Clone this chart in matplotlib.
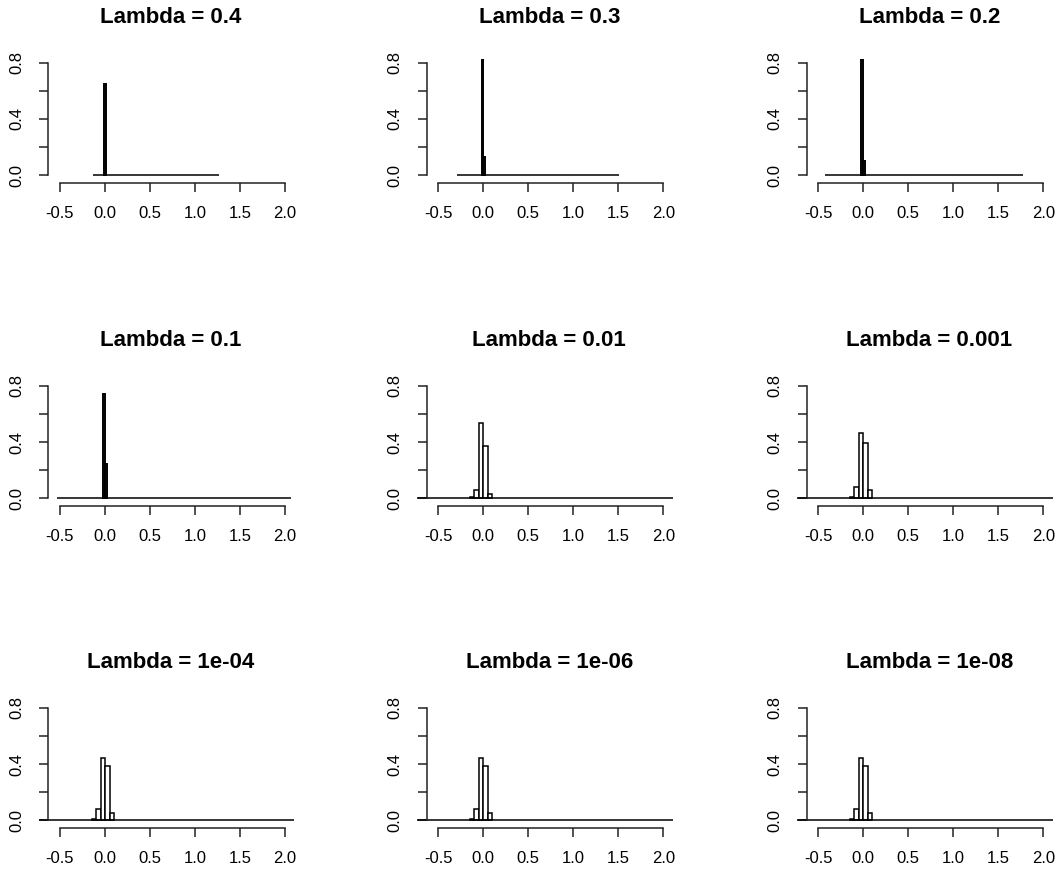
import numpy as np
import matplotlib
matplotlib.use("Agg")
from matplotlib import pyplot as plt

plt.rcParams["font.family"] = ["Liberation Sans", "DejaVu Sans"]

# 數據
lambdas = ["0.4", "0.3", "0.2", "0.1", "0.01", "0.001", "1e-04", "1e-06", "1e-08"]

# first break, last break and bin width of each histogram
bin_lo = [-0.13, -0.29, -0.43, -0.53, -0.80, -0.80, -0.80, -0.80, -0.80]
bin_hi = [1.26, 1.51, 1.77, 2.06, 2.20, 2.20, 2.20, 2.20, 2.20]
bin_w = [0.02, 0.02, 0.022, 0.026, 0.05, 0.05, 0.05, 0.05, 0.05]

# non-empty bins: left edge and proportion
bar_left = [
    [-0.01],
    [-0.02, 0.0],
    [-0.022, 0.0],
    [-0.026, 0.0],
    [-0.15, -0.10, -0.05, 0.0, 0.05],
    [-0.15, -0.10, -0.05, 0.0, 0.05],
    [-0.15, -0.10, -0.05, 0.0, 0.05],
    [-0.15, -0.10, -0.05, 0.0, 0.05],
    [-0.15, -0.10, -0.05, 0.0, 0.05],
]
bar_height = [
    [0.65],
    [0.84, 0.13],
    [0.846, 0.10],
    [0.74, 0.24],
    [0.01, 0.054, 0.536, 0.37, 0.03],
    [0.01, 0.079, 0.462, 0.39, 0.054],
    [0.01, 0.076, 0.445, 0.386, 0.052],
    [0.01, 0.076, 0.445, 0.386, 0.052],
    [0.01, 0.076, 0.445, 0.386, 0.052],
]

x_ticks = [-0.5, 0.0, 0.5, 1.0, 1.5, 2.0]
y_ticks = [0.0, 0.2, 0.4, 0.6, 0.8]
y_ticklabels = ["0.0", "", "0.4", "", "0.8"]

# layout in pixels
W, H = 1060, 876
col_left = [38.85, 417.15, 797.15]
row_zero = [175, 498, 820]
ax_w = 255.6
ax_h = 121.0

fig = plt.figure(figsize=(W / 100, H / 100), dpi=100)

for i, lam in enumerate(lambdas):
    r, c = divmod(i, 3)
    bottom = row_zero[r] + 4.5
    ax = fig.add_axes([col_left[c] / W, (H - bottom) / H, ax_w / W, ax_h / H])
    ax.set_xlim(-0.735, 2.105)
    ax.set_ylim(-0.032, 0.832)

    # empty bins: flat line at zero over the whole break range
    n = int(round((bin_hi[i] - bin_lo[i]) / bin_w[i]))
    ax.hlines(0, bin_lo[i], bin_lo[i] + n * bin_w[i], color="black", linewidth=1.1)
    lw = 1.4 if bin_w[i] < 0.03 else 1.1
    ax.bar(bar_left[i], bar_height[i], width=bin_w[i], align="edge",
           facecolor="white", edgecolor="black", linewidth=lw)

    for s in ["top", "right"]:
        ax.spines[s].set_visible(False)
    ax.spines["left"].set_position(("data", -0.63))
    ax.spines["bottom"].set_position(("data", -0.057))
    ax.spines["left"].set_bounds(0, 0.8)
    ax.spines["bottom"].set_bounds(-0.5, 2.0)
    for s in ["left", "bottom"]:
        ax.spines[s].set_linewidth(1.1)
        ax.spines[s].set_color("#222222")

    ax.set_xticks(x_ticks)
    ax.set_xticklabels(["%.1f" % t for t in x_ticks])
    ax.set_yticks(y_ticks)
    ax.set_yticklabels(y_ticklabels, rotation=90, va="center")
    ax.tick_params(direction="out", length=6.5, width=1.1, labelsize=12,
                   color="#222222")
    ax.tick_params(axis="x", pad=10)
    ax.tick_params(axis="y", pad=11)

    ax.text(0.517, 1.29, "Lambda = " + lam, transform=ax.transAxes,
            ha="center", va="baseline", fontsize=16, fontweight="bold")

fig.savefig("out.png", dpi=100)
